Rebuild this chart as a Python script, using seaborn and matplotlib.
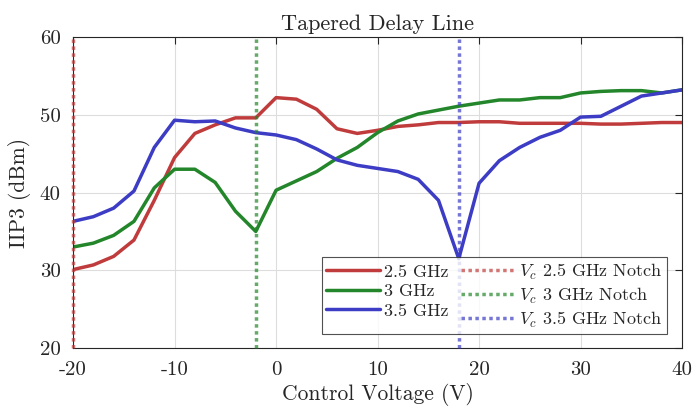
import numpy as np
import pandas as pd
import matplotlib
matplotlib.use("Agg")
import matplotlib.pyplot as plt
import seaborn as sns

voltage = list(range(-20, 41, 2))

iip3_25 = [30.1, 30.7, 31.8, 33.9, 39.0, 44.5, 47.6, 48.7, 49.6, 49.6, 52.2,
           52.0, 50.7, 48.2, 47.6, 48.0, 48.5, 48.7, 49.0, 49.0, 49.1, 49.1,
           48.9, 48.9, 48.9, 48.9, 48.8, 48.8, 48.9, 49.0, 49.0]
iip3_3 = [33.0, 33.5, 34.5, 36.3, 40.6, 43.0, 43.0, 41.3, 37.6, 35.0, 40.3,
          41.5, 42.7, 44.4, 45.8, 47.7, 49.2, 50.1, 50.6, 51.1, 51.5, 51.9,
          51.9, 52.2, 52.2, 52.8, 53.0, 53.1, 53.1, 52.8, 53.2]
iip3_35 = [36.3, 36.9, 38.0, 40.2, 45.8, 49.3, 49.1, 49.2, 48.3, 47.7, 47.4,
           46.8, 45.6, 44.2, 43.5, 43.1, 42.7, 41.7, 39.0, 31.5, 41.2, 44.1,
           45.8, 47.1, 48.0, 49.7, 49.8, 51.1, 52.4, 52.8, 53.2]

freqs = ["2.5 GHz", "3 GHz", "3.5 GHz"]
notch_v = [-20, -2, 18]
notch_labels = [r"$V_c$ 2.5 GHz Notch", r"$V_c$ 3 GHz Notch", r"$V_c$ 3.5 GHz Notch"]
colors = ["#c03c3c", "#23862a", "#3c3cc4"]

df = pd.DataFrame({
    "V": voltage * 3,
    "IIP3": iip3_25 + iip3_3 + iip3_35,
    "freq": [f for f in freqs for _ in voltage],
})

sns.set_style("whitegrid")
plt.rcParams["font.family"] = ["cmr10"]
plt.rcParams["mathtext.fontset"] = "cm"
plt.rcParams["axes.formatter.use_mathtext"] = False
plt.rcParams["axes.unicode_minus"] = False

fig = plt.figure(figsize=(6.96, 4.15), dpi=100)
ax = fig.add_axes([0.105, 0.161, 0.875, 0.750])

sns.lineplot(data=df, x="V", y="IIP3", hue="freq", palette=colors,
             linewidth=2.5, ax=ax)
for v, c, lab in zip(notch_v, colors, notch_labels):
    ax.axvline(v, color=c, alpha=0.7, linestyle=(0, (1, 1)), linewidth=2.5,
               label=lab, clip_on=False, zorder=3)

ax.set_xlim(-20, 40)
ax.set_ylim(20, 60)
ax.set_xticks(range(-20, 41, 10))
ax.set_yticks(range(20, 61, 10))
ax.grid(True, color="#dddddd", linewidth=0.8)
for s in ax.spines.values():
    s.set_edgecolor("#262626")
    s.set_linewidth(0.8)
ax.tick_params(direction="in", length=5, top=True, right=True, labelsize=15,
               color="#262626", width=0.8)
ax.tick_params(axis="x", pad=9)
ax.tick_params(axis="y", pad=9)
ax.set_xlabel("Control Voltage (V)", fontsize=15.5, labelpad=3)
ax.set_ylabel("IIP3 (dBm)", fontsize=15.5, labelpad=6)
ax.set_title("Tapered Delay Line", fontsize=16, pad=5)

h, l = ax.get_legend_handles_labels()
leg = ax.legend(h, l, ncol=2, loc="lower right", fontsize=13, frameon=True,
                fancybox=False, edgecolor="#262626", handlelength=3.0,
                handletextpad=0.2, columnspacing=0.7, labelspacing=0.22,
                borderpad=0.25, borderaxespad=0,
                bbox_to_anchor=(0.975, 0.045))
leg.get_frame().set_linewidth(0.8)

fig.savefig("out.png", dpi=100)
